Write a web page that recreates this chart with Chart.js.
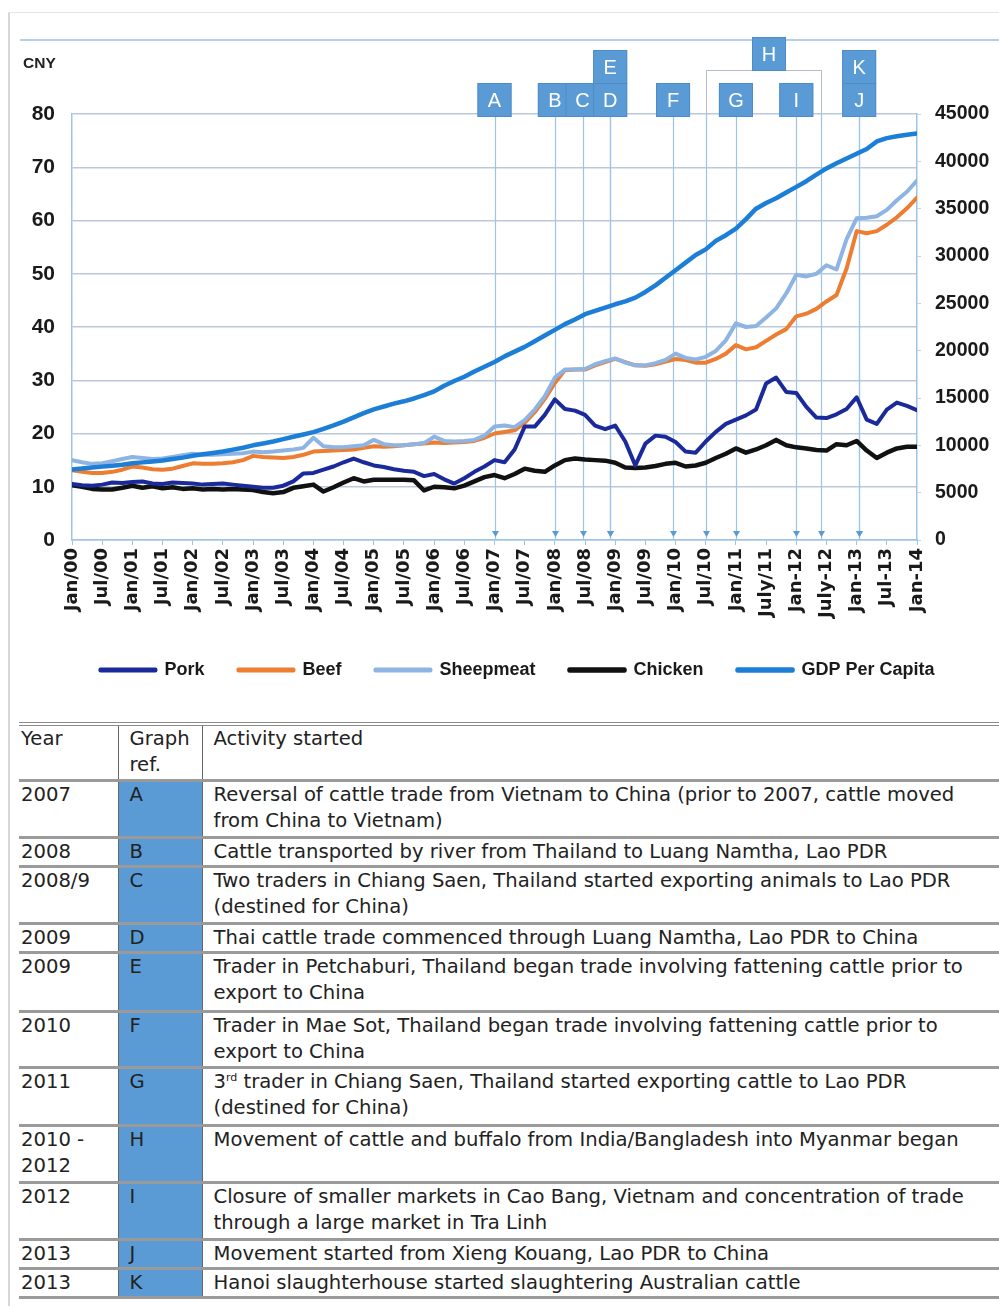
<!DOCTYPE html>
<html>
<head>
<meta charset="utf-8">
<title>Meat prices and GDP per capita, China</title>
<script src="https://cdn.jsdelivr.net/npm/chart.js@4.4.0/dist/chart.umd.min.js"></script>
<style>
  html, body { margin: 0; padding: 0; background: #fff; }
  body { width: 999px; height: 1306px; position: relative; overflow: hidden; font-family: "Liberation Sans", Arial, sans-serif; }
  #frame-left { position: absolute; left: 8px; top: 12px; width: 2px; height: 1294px; background: #d6d6d6; }
  #frame-top { position: absolute; left: 8px; top: 12px; width: 991px; height: 1px; background: #e4e4e4; }
  #chart-rule { position: absolute; left: 20px; top: 39px; width: 979px; height: 2px; background: #b3cfea; }
  #chart-canvas { position: absolute; left: 0; top: 0; }
  #cny { position: absolute; left: 23px; top: 54px; font-size: 15.5px; font-weight: bold; color: #222; }
  #events { position: absolute; left: 19px; top: 722px; width: 980px; border-collapse: collapse; table-layout: fixed;
            font-family: "DejaVu Sans", sans-serif; font-size: 19.6px; line-height: 26px; color: #222; }
  #events td { padding: 0 0 0 11px; vertical-align: top; white-space: nowrap; border-bottom: 3px solid #9a9a9a; }
  #events td:first-child { padding-left: 2px; }
  #events tr.head td { border-top: 4px double #8c8c8c; }
  #events td.ref { border-left: 1px solid #666; border-right: 1px solid #666; }
  #events tr:not(.head) td.ref { background: #5b9bd5; }
  #events sup { font-size: 11px; line-height: 0; vertical-align: 7px; }
</style>
</head>
<body>
<div id="frame-left"></div>
<div id="frame-top"></div>
<div id="chart-rule"></div>
<canvas id="chart-canvas" width="999" height="700"></canvas>
<div id="cny">CNY</div>

<table id="events">
  <colgroup><col style="width:99px"><col style="width:84px"><col></colgroup>
  <tr class="head" style="height:56px"><td>Year</td><td class="ref">Graph<br>ref.</td><td>Activity started</td></tr>
  <tr style="height:57px"><td>2007</td><td class="ref">A</td><td>Reversal of cattle trade from Vietnam to China (prior to 2007, cattle moved<br>from China to Vietnam)</td></tr>
  <tr style="height:26px"><td>2008</td><td class="ref">B</td><td>Cattle transported by river from Thailand to Luang Namtha, Lao PDR</td></tr>
  <tr style="height:57px"><td>2008/9</td><td class="ref">C</td><td>Two traders in Chiang Saen, Thailand started exporting animals to Lao PDR<br>(destined for China)</td></tr>
  <tr style="height:26px"><td>2009</td><td class="ref">D</td><td>Thai cattle trade commenced through Luang Namtha, Lao PDR to China</td></tr>
  <tr style="height:59px"><td>2009</td><td class="ref">E</td><td>Trader in Petchaburi, Thailand began trade involving fattening cattle prior to<br>export to China</td></tr>
  <tr style="height:56px"><td>2010</td><td class="ref">F</td><td>Trader in Mae Sot, Thailand began trade involving fattening cattle prior to<br>export to China</td></tr>
  <tr style="height:58px"><td>2011</td><td class="ref">G</td><td>3<sup>rd</sup> trader in Chiang Saen, Thailand started exporting cattle to Lao PDR<br>(destined for China)</td></tr>
  <tr style="height:57px"><td>2010 -<br>2012</td><td class="ref">H</td><td>Movement of cattle and buffalo from India/Bangladesh into Myanmar began</td></tr>
  <tr style="height:57px"><td>2012</td><td class="ref">I</td><td>Closure of smaller markets in Cao Bang, Vietnam and concentration of trade<br>through a large market in Tra Linh</td></tr>
  <tr style="height:26px"><td>2013</td><td class="ref">J</td><td>Movement started from Xieng Kouang, Lao PDR to China</td></tr>
  <tr style="height:26px"><td>2013</td><td class="ref">K</td><td>Hanoi slaughterhouse started slaughtering Australian cattle</td></tr>
</table>

<script>
// x axis: months since Jan 2000, one value every 2 months (Jan, Mar, May, Jul, Sep, Nov)
const stepMonths = 2;
const tickLabels = ["Jan/00", "Jul/00", "Jan/01", "Jul/01", "Jan/02", "Jul/02", "Jan/03", "Jul/03",
  "Jan/04", "Jul/04", "Jan/05", "Jul/05", "Jan/06", "Jul/06", "Jan/07", "Jul/07", "Jan/08", "Jul/08",
  "Jan/09", "Jul/09", "Jan/10", "Jul/10", "Jan/11", "July/11", "Jan-12", "July-12", "Jan-13", "Jul-13", "Jan-14"];

// CNY per kg (left axis), one row per year
const pork = [
  10.5, 10.3, 10.2, 10.4, 10.8, 10.7,
  10.9, 11.0, 10.6, 10.5, 10.8, 10.7,
  10.6, 10.4, 10.5, 10.6, 10.4, 10.2,
  10.0, 9.8, 9.8, 10.2, 11.0, 12.5,
  12.6, 13.2, 13.8, 14.6, 15.3, 14.6,
  14.0, 13.7, 13.3, 13.0, 12.8, 12.0,
  12.4, 11.4, 10.6, 11.6, 12.8, 13.8,
  15.0, 14.6, 17.0, 21.3, 21.3, 23.5,
  26.4, 24.6, 24.3, 23.5, 21.5, 20.8,
  21.5, 18.5, 14.0, 18.1, 19.6, 19.4,
  18.4, 16.6, 16.4, 18.5, 20.3, 21.8,
  22.6, 23.4, 24.5, 29.4, 30.5, 27.8,
  27.6, 25.0, 23.0, 22.9, 23.6, 24.6,
  26.8, 22.6, 21.8, 24.5, 25.8, 25.2,
  24.4];
const beef = [
  13.1, 12.8, 12.6, 12.6, 12.8, 13.2,
  13.8, 13.6, 13.3, 13.2, 13.4, 13.9,
  14.4, 14.3, 14.3, 14.4, 14.6, 15.0,
  15.8, 15.6, 15.5, 15.4, 15.6, 16.0,
  16.6, 16.7, 16.8, 16.9, 17.0, 17.3,
  17.6, 17.5, 17.6, 17.8, 18.0, 18.1,
  18.3, 18.2, 18.3, 18.4, 18.6, 19.2,
  20.0, 20.3, 20.6, 22.0, 24.0, 26.5,
  29.5, 31.9, 32.0, 32.0, 32.8, 33.4,
  34.0, 33.4, 32.8, 32.7, 33.0, 33.5,
  34.0, 33.8, 33.3, 33.3, 34.0, 35.0,
  36.6, 35.8, 36.2, 37.4, 38.6, 39.6,
  42.0, 42.5, 43.4, 44.8, 46.0, 51.0,
  58.0, 57.6, 58.0, 59.2, 60.6, 62.3,
  64.3];
const sheepmeat = [
  15.0, 14.6, 14.3, 14.4, 14.8, 15.2,
  15.6, 15.4, 15.2, 15.3, 15.6, 15.9,
  16.2, 16.0, 16.0, 16.1, 16.2, 16.3,
  16.6, 16.5, 16.6, 16.8, 17.0, 17.3,
  19.2, 17.6, 17.4, 17.4, 17.6, 17.8,
  18.8, 18.0, 17.8, 17.8, 18.0, 18.2,
  19.4, 18.6, 18.5, 18.6, 18.8, 19.6,
  21.3, 21.5, 21.2, 22.5, 24.5, 27.0,
  30.5, 32.0, 32.0, 32.1, 33.0, 33.6,
  34.1, 33.3, 32.8, 32.8, 33.2, 33.8,
  35.0, 34.2, 33.9, 34.4, 35.5, 37.5,
  40.7, 40.0, 40.2, 41.8, 43.5, 46.3,
  49.8, 49.5, 50.0, 51.6, 50.8, 56.5,
  60.4, 60.5, 60.8, 62.0, 63.8, 65.4,
  67.5];
const chicken = [
  10.3, 10.0, 9.6, 9.5, 9.5, 9.8,
  10.2, 9.8, 10.1, 9.7, 9.9, 9.6,
  9.7, 9.5, 9.6, 9.5, 9.6, 9.5,
  9.4, 9.0, 8.8, 9.0, 9.8, 10.1,
  10.4, 9.1, 9.9, 10.8, 11.6, 11.0,
  11.3, 11.3, 11.3, 11.3, 11.2, 9.3,
  10.0, 9.9, 9.7, 10.2, 11.0, 11.8,
  12.2, 11.6, 12.4, 13.4, 13.0, 12.8,
  14.0, 15.0, 15.3, 15.1, 15.0, 14.9,
  14.5, 13.6, 13.5, 13.6, 13.9, 14.3,
  14.5, 13.8, 14.0, 14.5, 15.4, 16.2,
  17.2, 16.4, 17.0, 17.8, 18.8, 17.8,
  17.4, 17.2, 16.9, 16.8, 18.0, 17.8,
  18.6, 16.8, 15.4, 16.4, 17.2, 17.5,
  17.5];
// CNY (right axis)
const gdpPerCapita = [
  7450, 7550, 7650, 7750, 7850, 7950,
  8100, 8200, 8300, 8400, 8550, 8700,
  8900, 9050, 9200, 9350, 9550, 9750,
  10000, 10200, 10400, 10650, 10900, 11150,
  11400, 11750, 12100, 12500, 12950, 13400,
  13800, 14100, 14400, 14650, 14950, 15300,
  15700, 16300, 16800, 17250, 17800, 18300,
  18800, 19400, 19900, 20400, 21000, 21600,
  22200, 22800, 23300, 23850, 24200, 24550,
  24900, 25200, 25600, 26200, 26900, 27700,
  28500, 29300, 30100, 30700, 31600, 32200,
  32900, 33900, 35000, 35600, 36100, 36700,
  37300, 37900, 38600, 39250, 39800, 40300,
  40800, 41300, 42100, 42450, 42650, 42800,
  42950];

// event markers (month index since Jan 2000); tier 1 = box stacked above
const markerNames = ["A", "B", "C", "D", "E", "F", "G", "I", "J", "K"];
const markerMonths = [84, 96, 101.5, 107, 107, 119.5, 132, 144, 156.5, 156.5];
const markerTier = [0, 0, 0, 0, 1, 0, 0, 0, 0, 1];
const spanName = "H";
const spanMonths = [126, 149];

function toPoints(values) {
  return values.map((v, i) => ({ x: i * stepMonths, y: v }));
}

const markerPlugin = {
  id: "eventMarkers",
  afterLayout(chart) {
    // the legend sits a little right of centre in the original
    if (chart.legend) {
      chart.legend.left += 18;
      chart.legend.right += 18;
    }
  },
  beforeDatasetsDraw(chart) {
    const { ctx, chartArea, scales } = chart;
    ctx.save();
    ctx.strokeStyle = "#9dc3e6";
    ctx.lineWidth = 1.2;
    markerMonths.concat(spanMonths).forEach(function (m) {
      const px = Math.round(scales.x.getPixelForValue(m)) + 0.5;
      ctx.beginPath();
      ctx.moveTo(px, chartArea.top);
      ctx.lineTo(px, chartArea.bottom);
      ctx.stroke();
    });
    ctx.restore();
  },
  afterDraw(chart) {
    const { ctx, chartArea, scales } = chart;
    const top = chartArea.top;
    const bottom = chartArea.bottom;
    ctx.save();

    // little arrow heads where the lines meet the axis
    ctx.fillStyle = "#5b9bd5";
    markerMonths.concat(spanMonths).forEach(function (m) {
      const px = Math.round(scales.x.getPixelForValue(m)) + 0.5;
      ctx.beginPath();
      ctx.moveTo(px - 3.5, bottom - 9);
      ctx.lineTo(px + 3.5, bottom - 9);
      ctx.lineTo(px, bottom - 3);
      ctx.closePath();
      ctx.fill();
    });

    // bracket for the H period
    const hx0 = Math.round(scales.x.getPixelForValue(spanMonths[0])) + 0.5;
    const hx1 = Math.round(scales.x.getPixelForValue(spanMonths[1])) + 0.5;
    const hy = top - 43.5;
    ctx.strokeStyle = "#b4bcc8";
    ctx.lineWidth = 1;
    ctx.beginPath();
    ctx.moveTo(hx0, top);
    ctx.lineTo(hx0, hy);
    ctx.lineTo(hx1, hy);
    ctx.lineTo(hx1, top);
    ctx.stroke();

    function drawBox(cx, y0, label) {
      ctx.fillStyle = "#5b9bd5";
      ctx.fillRect(cx - 17, y0, 34, 34);
      ctx.strokeStyle = "#4d8cca";
      ctx.lineWidth = 1;
      ctx.strokeRect(cx - 16.5, y0 + 0.5, 33, 33);
      ctx.fillStyle = "#ffffff";
      ctx.font = "20px 'Liberation Sans', Arial, sans-serif";
      ctx.textAlign = "center";
      ctx.textBaseline = "middle";
      ctx.fillText(label, cx, y0 + 18);
    }
    markerMonths.forEach(function (m, i) {
      const cx = scales.x.getPixelForValue(m);
      drawBox(cx, markerTier[i] ? top - 64 : top - 31, markerNames[i]);
    });
    drawBox((hx0 + hx1) / 2 + 5, top - 77, spanName);
    ctx.restore();
  }
};

const tickFont = { family: "'Liberation Sans', Arial, sans-serif", weight: "bold" };

const chartInstance = new Chart(document.getElementById("chart-canvas").getContext("2d"), {
  type: "line",
  data: {
    datasets: [
      { label: "Pork", data: toPoints(pork), borderColor: "#1b2a9a", backgroundColor: "#1b2a9a", borderWidth: 4, yAxisID: "y", order: 1 },
      { label: "Beef", data: toPoints(beef), borderColor: "#ed7d31", backgroundColor: "#ed7d31", borderWidth: 4, yAxisID: "y", order: 3 },
      { label: "Sheepmeat", data: toPoints(sheepmeat), borderColor: "#8db4e2", backgroundColor: "#8db4e2", borderWidth: 4, yAxisID: "y", order: 2 },
      { label: "Chicken", data: toPoints(chicken), borderColor: "#111111", backgroundColor: "#111111", borderWidth: 4.5, yAxisID: "y", order: 4 },
      { label: "GDP Per Capita", data: toPoints(gdpPerCapita), borderColor: "#1c7ed6", backgroundColor: "#1c7ed6", borderWidth: 4.5, yAxisID: "y2", order: 0 }
    ]
  },
  options: {
    responsive: false,
    animation: false,
    events: [],
    elements: { point: { radius: 0 }, line: { tension: 0, borderJoinStyle: "round", borderCapStyle: "round" } },
    layout: { padding: { top: 114, left: 0, right: 0, bottom: 11 } },
    scales: {
      x: {
        type: "linear",
        min: 0,
        max: 168,
        afterFit: function (s) { s.height = 87; },
        grid: { drawOnChartArea: false, color: "#9dc3e6", tickLength: 5 },
        border: { color: "#9dc3e6", width: 1.5 },
        ticks: {
          stepSize: 6,
          autoSkip: false,
          maxRotation: 90,
          minRotation: 90,
          padding: 3,
          color: "#1a1a1a",
          font: { family: "'DejaVu Sans', sans-serif", weight: "bold", size: 18 },
          callback: function (value) { return tickLabels[Math.round(value / 6)]; }
        }
      },
      y: {
        position: "left",
        min: 0,
        max: 80,
        afterFit: function (s) { s.width = 72; },
        grid: { color: "#b9c9dd", lineWidth: 1.5, drawTicks: false },
        border: { color: "#9dc3e6", width: 1.5 },
        ticks: { stepSize: 10, padding: 17, color: "#1a1a1a", font: Object.assign({ size: 21 }, tickFont) }
      },
      y2: {
        position: "right",
        min: 0,
        max: 45000,
        afterFit: function (s) { s.width = 82; },
        grid: { drawOnChartArea: false, color: "#c5d3e3", tickLength: 4 },
        border: { color: "#9dc3e6", width: 1.5 },
        ticks: {
          stepSize: 5000,
          padding: 14,
          color: "#1a1a1a",
          font: Object.assign({ size: 19.5 }, tickFont),
          callback: function (value) { return String(value); }
        }
      }
    },
    plugins: {
      tooltip: { enabled: false },
      legend: {
        position: "bottom",
        labels: {
          boxWidth: 55,
          boxHeight: 1,
          padding: 34,
          color: "#1a1a1a",
          font: { family: "'Liberation Sans', Arial, sans-serif", size: 18, weight: "bold" },
          sort: function (a, b) { return a.datasetIndex - b.datasetIndex; }
        }
      }
    }
  },
  plugins: [markerPlugin]
});
</script>
</body>
</html>
